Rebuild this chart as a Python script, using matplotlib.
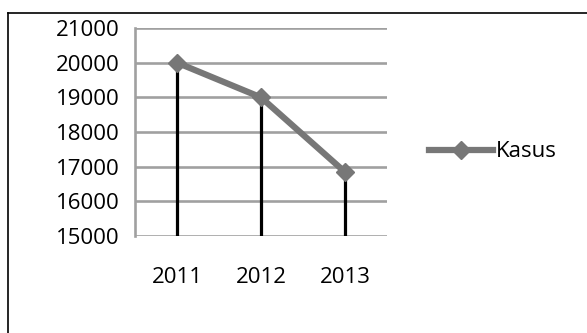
import matplotlib.pyplot as plt
from matplotlib.lines import Line2D

years = ["2011", "2012", "2013"]
kasus = [20000, 19000, 16850]
y_ticks = [15000, 16000, 17000, 18000, 19000, 20000, 21000]

plt.rcParams['font.family'] = ['Open Sans', 'DejaVu Sans']

fig = plt.figure(figsize=(5.87, 3.33), dpi=100)
ax = fig.add_axes([0.230, 0.291, 0.429, 0.625])

x = list(range(len(years)))

# gridlines
for t in y_ticks:
    ax.axhline(t, color="#a0a0a0", lw=1.9, zorder=1)

# drop lines
ax.vlines(x, y_ticks[0], kasus, colors="black", lw=2.3, zorder=2)

# series
ax.plot(x, kasus, color="#777777", lw=4.5, marker="D", markersize=9,
        markerfacecolor="#777777", markeredgecolor="#777777", zorder=3,
        label="Kasus")

ax.set_xlim(-0.5, 2.5)
ax.set_ylim(y_ticks[0], y_ticks[-1])
ax.set_xticks(x)
ax.set_xticklabels(years)
ax.set_yticks(y_ticks)
ax.tick_params(axis="x", length=0, pad=22, labelsize=16)
ax.tick_params(axis="y", length=0, pad=11, labelsize=16)
for s in ["top", "right", "bottom"]:
    ax.spines[s].set_visible(False)
ax.spines["left"].set_color("#a0a0a0")
ax.spines["left"].set_linewidth(1.9)

fig.legend(handles=[Line2D([0], [0], color="#777777", lw=4.5, marker="D",
                           markersize=9)],
           labels=["Kasus"], loc="center left",
           bbox_to_anchor=(409 / 587, 1 - 152 / 333), frameon=False,
           fontsize=16, handlelength=2.9, handletextpad=0.1)

# chart border (top and left edge visible)
fig.add_artist(Line2D([8 / 587, 1.0], [1 - 13 / 333, 1 - 13 / 333],
                      transform=fig.transFigure, color="black", lw=1.2))
fig.add_artist(Line2D([8 / 587, 8 / 587], [0, 1 - 13 / 333],
                      transform=fig.transFigure, color="black", lw=1.2))

fig.savefig("out.png", dpi=100)
